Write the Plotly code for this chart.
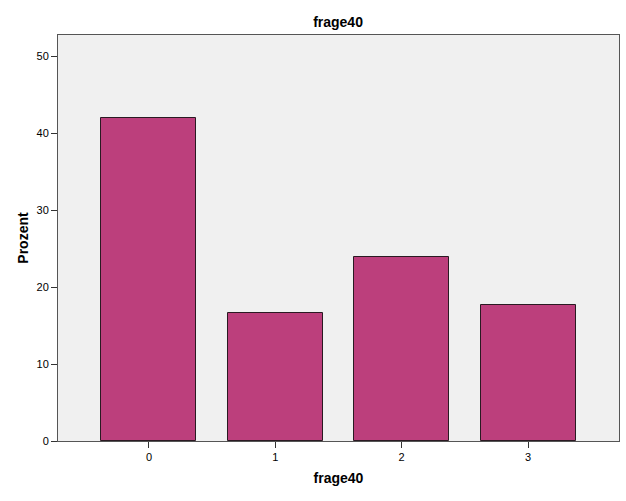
import plotly.graph_objects as go

categories = ["0", "1", "2", "3"]
values = [42.0, 16.6, 23.9, 17.7]
y_ticks = [0, 10, 20, 30, 40, 50]

fig = go.Figure()
fig.add_trace(go.Bar(
    x=[0, 1, 2, 3], y=values, width=0.752,
    marker=dict(color="#bc3f7c", line=dict(color="#2a1a22", width=1)),
))
fig.update_layout(
    width=626, height=501,
    margin=dict(l=58, r=7, t=35, b=60, autoexpand=False),
    paper_bgcolor="white", plot_bgcolor="#f0f0f0",
    font=dict(family="Liberation Sans, Arial", size=11, color="black"),
    title=dict(text="<b>frage40</b>", x=0.54, xanchor="center", y=0.955, yanchor="middle",
               font=dict(size=14)),
    showlegend=False,
    bargap=0,
)
fig.update_xaxes(
    range=[-0.72, 3.72], tickmode="array", tickvals=[0, 1, 2, 3], ticktext=categories,
    ticks="outside", ticklen=6, tickcolor="#333", showgrid=False, zeroline=False,
    showline=True, linecolor="#555", linewidth=1, mirror=True,
    title=dict(text="<b>frage40</b>", font=dict(size=14), standoff=10),
)
fig.update_yaxes(
    range=[0, 52.8], tickmode="array", tickvals=y_ticks,
    ticks="outside", ticklen=6, tickcolor="#333", showgrid=False, zeroline=False,
    showline=True, linecolor="#555", linewidth=1, mirror=True,
    title=dict(text="<b>Prozent</b>", font=dict(size=14), standoff=4),
)
fig.write_html("out.html", config={"displayModeBar": False},
               post_script="document.body.style.margin='0';")
